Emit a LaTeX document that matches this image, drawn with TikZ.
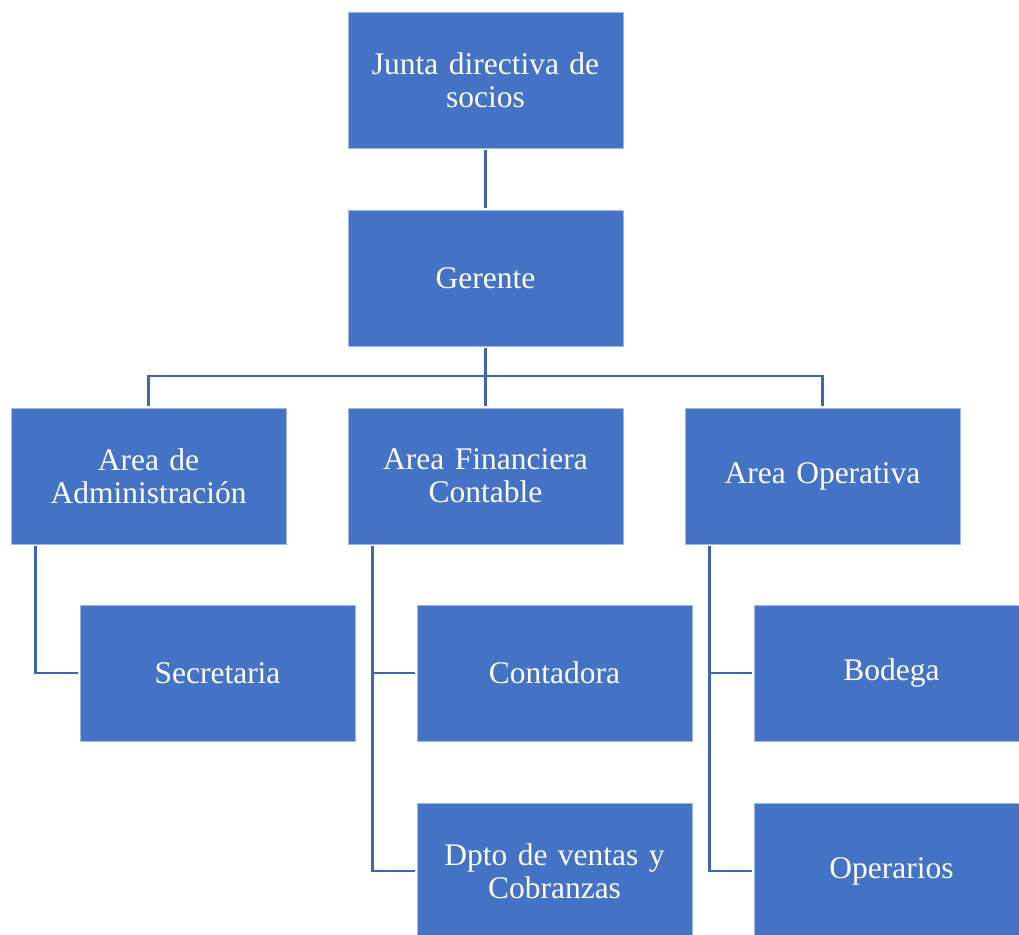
\documentclass[tikz,border=0pt]{standalone}
\usepackage{fontspec}
\setmainfont{Liberation Serif}
\definecolor{boxfill}{RGB}{68,114,196}
\definecolor{boxedge}{RGB}{160,185,225}
\definecolor{linkblue}{RGB}{61,101,176}
\begin{document}
\begin{tikzpicture}[x=1pt,y=-1pt,
  orgbox/.style={rectangle, fill=boxfill, draw=boxedge, line width=0.8pt,
    minimum width=275pt, minimum height=136pt, inner sep=0pt,
    text=white, align=center, text width=260pt,
    font=\fontsize{31.5}{33}\selectfont},
  link/.style={draw=linkblue, line width=2.6pt, shorten <=2pt, shorten >=2pt}]
  \useasboundingbox (0,0) rectangle (1019,934);
  \clip (0,0) rectangle (1019,934);
  % top of the chart
  \node[orgbox] (junta) at (485.5,80) {Junta directiva de\\socios};
  \node[orgbox] (ger) at (485.5,278) {Gerente};
  % areas
  \node[orgbox] (adm) at (148.5,476) {Area de\\Administración};
  \node[orgbox] (fin) at (485.5,476) {Area Financiera\\Contable};
  \node[orgbox] (op)  at (822.5,476) {Area Operativa};
  % departments
  \node[orgbox] (sec)  at (217.5,673) {Secretaria};
  \node[orgbox] (cont) at (554.5,673) {Contadora};
  \node[orgbox] (dpto) at (554.5,871) {Dpto de ventas y\\Cobranzas};
  \node[orgbox] (bod)  at (891.5,673) {Bodega};
  \node[orgbox] (oper) at (891.5,871) {Operarios};
  % connectors
  \coordinate (bus) at (485.5,376);
  \draw[link] (junta.south) -- (ger.north);
  \draw[link] (ger.south) -- (fin.north);
  \draw[link] (adm.north) |- (bus) -| (op.north);
  \coordinate (admrail) at ([xshift=25pt]adm.south west);
  \coordinate (finrail) at ([xshift=25pt]fin.south west);
  \coordinate (oprail)  at ([xshift=25pt]op.south west);
  \draw[link] (admrail) |- (sec.west);
  \draw[link] (finrail) |- (cont.west);
  \draw[link] (finrail) |- (dpto.west);
  \draw[link] (oprail) |- (bod.west);
  \draw[link] (oprail) |- (oper.west);
\end{tikzpicture}
\end{document}
